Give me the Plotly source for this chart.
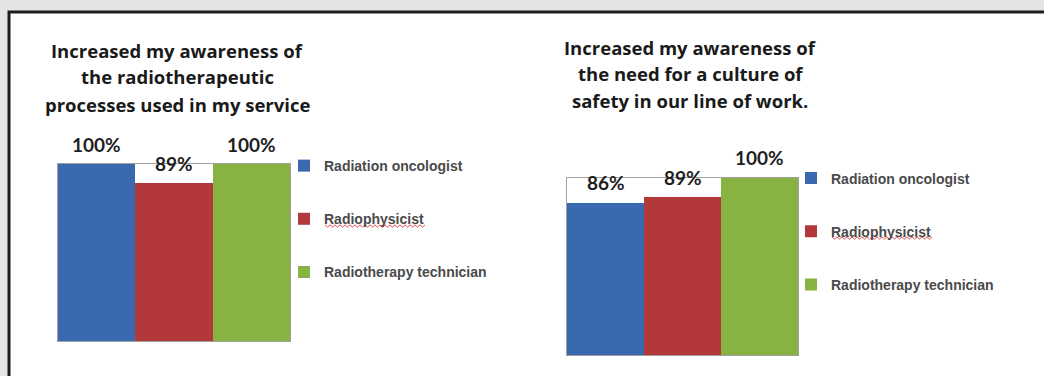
import plotly.graph_objects as go

categories = ["Radiation oncologist", "Radiophysicist", "Radiotherapy technician"]
left_values = [100, 89, 100]
right_values = [86, 89, 100]
left_title = ["Increased my awareness of", "the radiotherapeutic", "processes used in my service"]
right_title = ["Increased my awareness of", "the need for a culture of", "safety in our line of work."]
colors = ["#3a69b0", "#b3383b", "#88b242"]

W, H = 1044, 376

def px(x):
    return x / W

def py(y):
    return 1 - y / H

fig = go.Figure()

for i, (cat, val, col) in enumerate(zip(categories, left_values, colors)):
    fig.add_trace(go.Bar(x=[cat], y=[val], name=cat, marker=dict(color=col, line=dict(width=0)),
                         xaxis="x", yaxis="y", legend="legend", legendgroup="L" + str(i)))
for i, (cat, val, col) in enumerate(zip(categories, right_values, colors)):
    fig.add_trace(go.Bar(x=[cat], y=[val], name=cat, marker=dict(color=col, line=dict(width=0)),
                         xaxis="x2", yaxis="y2", legend="legend2", legendgroup="R" + str(i)))

annotations = []
label_font = dict(family="Lato, Open Sans, sans-serif", size=19, color="#1e1e1e")
for cat, val in zip(categories, left_values):
    annotations.append(dict(x=cat, y=val, xref="x", yref="y", text=f"<b>{val}%</b>", showarrow=False,
                            yanchor="middle", yshift=20, font=label_font))
for cat, val in zip(categories, right_values):
    annotations.append(dict(x=cat, y=val, xref="x2", yref="y2", text=f"<b>{val}%</b>", showarrow=False,
                            yanchor="middle", yshift=20, font=label_font))

title_font = dict(family="Open Sans, sans-serif", size=18.5, color="#1a1a1a")
for line, yy in zip(left_title, [50, 77, 104]):
    annotations.append(dict(x=px(177), y=py(yy), xref="paper", yref="paper", text=f"<b>{line}</b>",
                            showarrow=False, xanchor="center", yanchor="middle", font=title_font))
for line, yy in zip(right_title, [47, 74, 101]):
    annotations.append(dict(x=px(690), y=py(yy), xref="paper", yref="paper", text=f"<b>{line}</b>",
                            showarrow=False, xanchor="center", yanchor="middle", font=title_font))

axis_common = dict(showgrid=False, zeroline=False, showticklabels=False, ticks="",
                   showline=True, linecolor="#a0a0a0", linewidth=1, mirror=True, fixedrange=True)

legend_common = dict(font=dict(family="Liberation Sans, Arial, sans-serif", size=14, color="#4a4a4a",
                               weight="bold"),
                     bgcolor="rgba(0,0,0,0)", traceorder="grouped", tracegroupgap=32,
                     itemwidth=30, xanchor="left", yanchor="top")


def squiggle(x0, x1, y):
    pts = []
    x = x0
    k = 0
    while x <= x1:
        pts.append((x, y + (1.2 if k % 2 else -1.2)))
        x += 2.5
        k += 1
    d = "M " + " L ".join(f"{px(a):.5f},{py(b):.5f}" for a, b in pts)
    return dict(type="path", xref="paper", yref="paper", path=d,
                line=dict(color="#e0484a", width=1), layer="above")


fig.update_layout(
    width=W, height=H,
    margin=dict(l=0, r=0, t=0, b=0),
    paper_bgcolor="#e4e4e4",
    plot_bgcolor="#ffffff",
    barmode="relative",
    bargap=0,
    showlegend=True,
    xaxis=dict(domain=[px(58), px(290)], anchor="y", **axis_common),
    yaxis=dict(domain=[py(341), py(164)], range=[0, 100], anchor="x", **axis_common),
    xaxis2=dict(domain=[px(567), px(798)], anchor="y2", **axis_common),
    yaxis2=dict(domain=[py(355), py(178)], range=[0, 100], anchor="x2", **axis_common),
    legend=dict(x=px(284), y=py(150), **legend_common),
    legend2=dict(x=px(791), y=py(162.5), **legend_common),
    annotations=annotations,
    shapes=[
        dict(type="rect", xref="paper", yref="paper", x0=px(9), x1=1.05, y0=-0.05, y1=py(12),
             fillcolor="#ffffff", line=dict(color="#1c1c1c", width=3), layer="below"),
        squiggle(325, 427, 226),
        squiggle(832, 933, 238),
    ],
)

fig.write_html("out.html")
